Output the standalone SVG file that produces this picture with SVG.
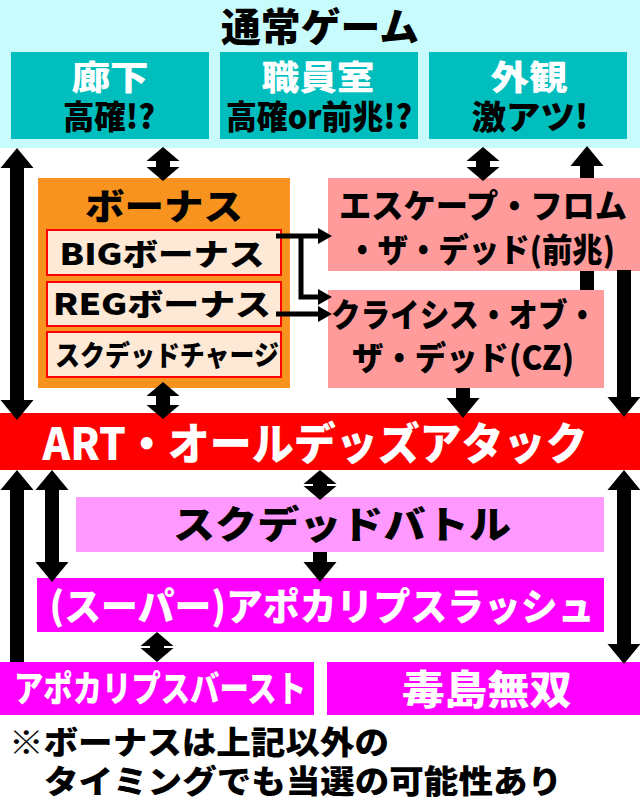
<svg xmlns="http://www.w3.org/2000/svg" width="640" height="810" viewBox="0 0 640 810">
<style>
text{font-family:"Noto Sans CJK JP","Noto Sans",sans-serif;font-weight:900;text-anchor:middle}
.w{fill:#ffffff}
.teal{fill:#00bebe}
.pink{fill:#ff9b9b}
.mag{fill:#ff00ff}
.sub{fill:#fde9d5;stroke:#ff0000;stroke-width:2}
.st{stroke:#000;fill:none;stroke-linecap:butt}
.big{stroke-width:14}
.thin{stroke-width:5}
.l{text-anchor:start}
</style>
<defs>
<marker id="hb" markerUnits="userSpaceOnUse" viewBox="0 -17 21 34" markerWidth="21" markerHeight="34" refX="0" refY="0" orient="auto-start-reverse"><path d="M0,-16.5 L20,0 L0,16.5 z" fill="#000"/></marker>
<marker id="hs" markerUnits="userSpaceOnUse" viewBox="0 -17 15 34" markerWidth="15" markerHeight="34" refX="0" refY="0" orient="auto-start-reverse"><path d="M0,-16.5 L14,0 L0,16.5 z" fill="#000"/></marker>
<marker id="ht" markerUnits="userSpaceOnUse" viewBox="0 -9 15 18" markerWidth="15" markerHeight="18" refX="0" refY="0" orient="auto"><path d="M0,-8 L14,0 L0,8 z" fill="#000"/></marker>
</defs>

<rect x="0" y="0" width="640" height="148" fill="#c8fcfc"/>
<g id="normal-game">
<text x="320" y="41" font-size="39" textLength="198" lengthAdjust="spacingAndGlyphs">通常ゲーム</text>
</g>
<g id="rouka">
<rect class="teal" x="11" y="52" width="198" height="87"/>
<text class="w" x="110" y="90" font-size="34" textLength="77" lengthAdjust="spacingAndGlyphs">廊下</text>
<text x="109" y="129" font-size="33" textLength="92" lengthAdjust="spacingAndGlyphs">高確!?</text>
</g>
<g id="shokuinshitsu">
<rect class="teal" x="220" y="52" width="198" height="87"/>
<text class="w" x="318" y="90" font-size="34" textLength="113" lengthAdjust="spacingAndGlyphs">職員室</text>
<text x="319" y="129" font-size="33" textLength="186" lengthAdjust="spacingAndGlyphs">高確or前兆!?</text>
</g>
<g id="gaikan">
<rect class="teal" x="429" y="52" width="198" height="87"/>
<text class="w" x="529" y="90" font-size="34" textLength="77" lengthAdjust="spacingAndGlyphs">外観</text>
<text x="530" y="129" font-size="33" textLength="117" lengthAdjust="spacingAndGlyphs">激アツ!</text>
</g>

<g id="bonus">
<rect x="38" y="178" width="252" height="210" fill="#f7931e"/>
<text x="164" y="220" font-size="36" textLength="158" lengthAdjust="spacingAndGlyphs">ボーナス</text>
</g>
<g id="big-bonus">
<rect class="sub" x="47" y="230" width="234" height="45"/>
<text x="162" y="265" font-size="30" textLength="205" lengthAdjust="spacingAndGlyphs">BIGボーナス</text>
</g>
<g id="reg-bonus">
<rect class="sub" x="47" y="282" width="234" height="44"/>
<text x="162" y="315" font-size="30" textLength="218" lengthAdjust="spacingAndGlyphs">REGボーナス</text>
</g>
<g id="scud-charge">
<rect class="sub" x="47" y="332" width="234" height="45"/>
<text x="167" y="366" font-size="28" textLength="224" lengthAdjust="spacingAndGlyphs">スクデッドチャージ</text>
</g>

<g id="escape">
<rect class="pink" x="328" y="178" width="312" height="93"/>
<text x="483" y="218" font-size="33" textLength="288" lengthAdjust="spacingAndGlyphs">エスケープ・フロム</text>
<text x="481" y="262" font-size="33" textLength="268" lengthAdjust="spacingAndGlyphs">・ザ・デッド(前兆)</text>
</g>
<g id="crisis">
<rect class="pink" x="328" y="290" width="276" height="98"/>
<text x="464" y="327" font-size="33" textLength="266" lengthAdjust="spacingAndGlyphs">クライシス・オブ・</text>
<text x="463" y="370" font-size="33" textLength="222" lengthAdjust="spacingAndGlyphs">ザ・デッド(CZ)</text>
</g>

<g id="art">
<rect x="0" y="413" width="640" height="57" fill="#ff0000"/>
<text class="w" x="315" y="460" font-size="44" textLength="545" lengthAdjust="spacingAndGlyphs">ART・オールデッズアタック</text>
</g>
<g id="scud-battle">
<rect x="76" y="497" width="528" height="55" fill="#ff99ff"/>
<text x="342" y="538" font-size="38" textLength="338" lengthAdjust="spacingAndGlyphs">スクデッドバトル</text>
</g>
<g id="apocalypse-rush">
<rect class="mag" x="37" y="578" width="567" height="54"/>
<text class="w" x="322" y="620" font-size="38" textLength="545" lengthAdjust="spacingAndGlyphs">(スーパー)アポカリプスラッシュ</text>
</g>
<g id="apocalypse-burst">
<rect class="mag" x="0" y="662" width="314" height="53"/>
<text class="w" x="160" y="702" font-size="36" textLength="292" lengthAdjust="spacingAndGlyphs">アポカリプスバースト</text>
</g>
<g id="busujima">
<rect class="mag" x="327" y="662" width="313" height="53"/>
<text class="w" x="487" y="704" font-size="40" textLength="170" lengthAdjust="spacingAndGlyphs">毒島無双</text>
</g>

<g id="note">
<text class="l" x="9" y="754" font-size="32" textLength="380" lengthAdjust="spacingAndGlyphs">※ボーナスは上記以外の</text>
<text class="l" x="44" y="793" font-size="32" textLength="518" lengthAdjust="spacingAndGlyphs">タイミングでも当選の可能性あり</text>
</g>

<g id="connectors">
<line class="st big" x1="17" y1="168" x2="17" y2="400" marker-start="url(#hb)" marker-end="url(#hb)"/>
<line class="st big" x1="163" y1="161" x2="163" y2="167" marker-start="url(#hs)" marker-end="url(#hs)"/>
<line class="st big" x1="483" y1="161" x2="483" y2="167" marker-start="url(#hs)" marker-end="url(#hs)"/>
<line class="st big" x1="587" y1="178" x2="587" y2="166" marker-end="url(#hb)"/>
<line class="st big" x1="587" y1="290" x2="587" y2="271"/>
<line class="st big" x1="624" y1="270" x2="624" y2="397" marker-end="url(#hb)"/>
<line class="st big" x1="463" y1="388" x2="463" y2="398" marker-end="url(#hb)"/>
<line class="st big" x1="163" y1="396" x2="163" y2="405" marker-start="url(#hs)" marker-end="url(#hs)"/>
<line class="st thin" x1="276" y1="236" x2="318" y2="236" marker-end="url(#ht)"/>
<path class="st thin" d="M301,236 V297 H318" marker-end="url(#ht)"/>
<line class="st thin" x1="276" y1="314" x2="318" y2="314" marker-end="url(#ht)"/>
<line class="st big" x1="17" y1="662" x2="17" y2="490" marker-end="url(#hb)"/>
<line class="st big" x1="52" y1="490" x2="52" y2="562" marker-start="url(#hb)" marker-end="url(#hb)"/>
<line class="st big" x1="320" y1="484" x2="320" y2="486" marker-start="url(#hs)" marker-end="url(#hs)"/>
<line class="st big" x1="320" y1="552" x2="320" y2="562" marker-end="url(#hb)"/>
<line class="st big" x1="624" y1="490" x2="624" y2="644" marker-start="url(#hb)" marker-end="url(#hb)"/>
<line class="st big" x1="157" y1="646" x2="157" y2="648" marker-start="url(#hs)" marker-end="url(#hs)"/>
</g>
</svg>
